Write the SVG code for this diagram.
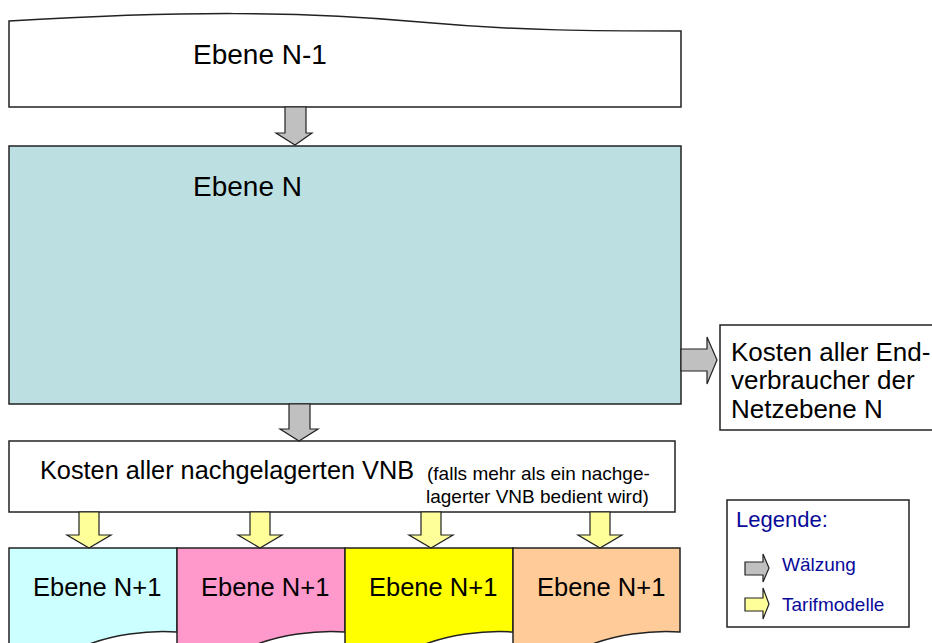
<svg xmlns="http://www.w3.org/2000/svg" width="932" height="643" viewBox="0 0 932 643">
<style>
.box{stroke:#222;stroke-width:1.5}
.t{font-family:"Liberation Sans",Arial,sans-serif;fill:#000}
.leg{font-family:"Liberation Sans",Arial,sans-serif;fill:#0a0a9a}
.ga{fill:#c0c0c0;stroke:#222;stroke-width:1.2;stroke-linejoin:miter}
.ya{fill:#ffff99;stroke:#222;stroke-width:1.2;stroke-linejoin:miter}
</style>
<rect width="932" height="643" fill="#fff"/>
<g id="ebene-n-1">
<path class="box" fill="#fff" d="M9,21 C180,11 300,11 420,22 C520,31 600,31 681,31 V107 H9 Z"/>
<text class="t" x="193" y="64" font-size="28">Ebene N-1</text>
</g>
<g id="ebene-n">
<rect class="box" x="9" y="146" width="672" height="258" fill="#bce0e1"/>
<text class="t" x="193" y="196" font-size="28">Ebene N</text>
</g>
<g id="endverbraucher">
<rect class="box" x="720" y="325" width="215" height="105" fill="#fff"/>
<text class="t" font-size="26"><tspan x="731" y="361">Kosten aller End-</tspan><tspan x="731" y="389">verbraucher der</tspan><tspan x="731" y="418">Netzebene N</tspan></text>
</g>
<g id="nachgelagerte-vnb">
<rect class="box" x="9" y="441" width="666" height="71" fill="#fff"/>
<text class="t" x="40" y="479" font-size="25.3">Kosten aller nachgelagerten VNB</text>
<text class="t" x="427" y="480" font-size="19">(falls mehr als ein nachge-</text>
<text class="t" x="426" y="503" font-size="19">lagerter VNB bedient wird)</text>
</g>
<g id="ebene-n1-a">
<path class="box" fill="#ccffff" d="M9,548 H177 V632 C150,630 110,634 80,648 L9,660 Z"/>
<text class="t" x="33" y="596" font-size="25.5">Ebene N+1</text>
</g>
<g id="ebene-n1-b">
<path class="box" fill="#ff99cc" d="M177,548 H345 V632 C318,630 278,634 248,648 L177,660 Z"/>
<text class="t" x="201" y="596" font-size="25.5">Ebene N+1</text>
</g>
<g id="ebene-n1-c">
<path class="box" fill="#ffff00" d="M345,548 H513 V632 C486,630 446,634 416,648 L345,660 Z"/>
<text class="t" x="369" y="596" font-size="25.5">Ebene N+1</text>
</g>
<g id="ebene-n1-d">
<path class="box" fill="#ffcc99" d="M513,548 H680 V632 C653,630 613,634 583,648 L513,660 Z"/>
<text class="t" x="537" y="596" font-size="25.5">Ebene N+1</text>
</g>
<g id="legende">
<rect class="box" x="727" y="500" width="182" height="127" fill="#fff"/>
<text class="leg" x="736" y="527" font-size="22">Legende:</text>
<path class="ga" d="M745,562 H763 V554 L769,568 L763,582 V575 H745 Z"/>
<text class="leg" x="782" y="571" font-size="19">Wälzung</text>
<path class="ya" d="M745,598 H763 V588 L769,604 L763,619 V611 H745 Z"/>
<text class="leg" x="782" y="611" font-size="19">Tarifmodelle</text>
</g>
<g id="connectors">
<path class="ga" d="M285,107 H306 V133 H312 L295,145 L276,133 H285 Z"/>
<path class="ga" d="M681,349 H707 V337 L717,360 L707,384 V371 H681 Z"/>
<path class="ga" d="M289,404 H310 V429 H318 L299,441 L280,429 H289 Z"/>
<path class="ya" d="M79,512 H99 V535 H111 L89,548 L67,535 H79 Z"/>
<path class="ya" d="M250,512 H270 V535 H282 L260,548 L238,535 H250 Z"/>
<path class="ya" d="M421,512 H441 V535 H453 L431,548 L409,535 H421 Z"/>
<path class="ya" d="M590,512 H610 V535 H622 L600,548 L578,535 H590 Z"/>
</g>
</svg>
